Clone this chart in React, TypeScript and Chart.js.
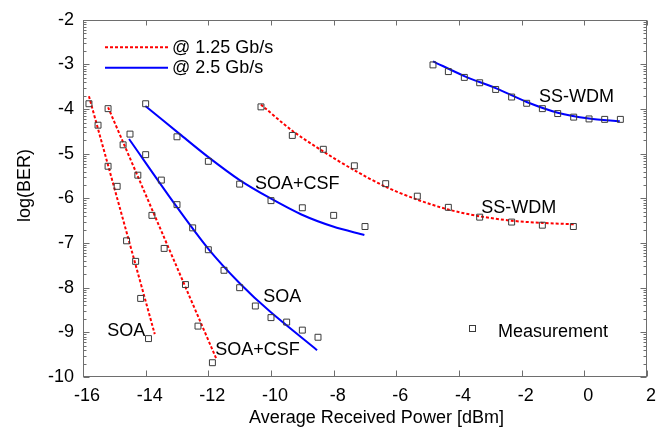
import React, { useEffect, useRef } from 'react';
import { Chart, registerables } from 'chart.js';

Chart.register(...registerables);

// ---------- data ----------
// SOA @ 1.25 Gb/s
const soa125X = [-15.81, -15.52, -15.2, -14.91, -14.61, -14.32, -14.16, -13.91];
const soa125Y = [-3.88, -4.36, -5.28, -5.73, -6.95, -7.41, -8.24, -9.14];
const soa125FitX = [-15.81, -13.71];
const soa125FitY = [-3.71, -9.04];

// SOA+CSF @ 1.25 Gb/s
const csf125X = [-15.2, -14.72, -14.25, -13.8, -13.41, -12.73, -12.33, -11.87];
const csf125Y = [-3.99, -4.8, -5.48, -6.38, -7.12, -7.93, -8.86, -9.68];
const csf125FitX = [-15.2, -11.74];
const csf125FitY = [-3.96, -9.6];

// SOA @ 2.5 Gb/s
const soa25X = [-14.5, -14, -13.5, -13, -12.5, -12, -11.5, -11, -10.5, -10, -9.5, -9, -8.5];
const soa25Y = [-4.56, -5.02, -5.59, -6.14, -6.66, -7.15, -7.61, -8.0, -8.41, -8.67, -8.77, -8.95, -9.11];
const soa25FitX = [-14.53, -13.1, -12.0, -11.0, -10.04, -8.53];
const soa25FitY = [-4.67, -6.1, -7.13, -7.9, -8.53, -9.4];

// SOA+CSF @ 2.5 Gb/s
const csf25X = [-14, -13, -12, -11, -10, -9, -8, -7];
const csf25Y = [-3.88, -4.62, -5.17, -5.68, -6.05, -6.21, -6.38, -6.63];
const csf25FitX = [-14.01, -12.91, -12.01, -11.0, -10.04, -9.03, -8.02, -7.02];
const csf25FitY = [-3.93, -4.56, -5.07, -5.59, -5.99, -6.36, -6.63, -6.82];

// SS-WDM @ 1.25 Gb/s
const ssw125X = [-10.32, -9.32, -8.33, -7.34, -6.34, -5.33, -4.34, -3.34, -2.32, -1.34, -0.35];
const ssw125Y = [-3.95, -4.59, -4.9, -5.27, -5.67, -5.95, -6.2, -6.42, -6.53, -6.6, -6.63];
const ssw125FitX = [-10.32, -9.33, -8.33, -7.34, -6.34, -5.36, -4.34, -3.34, -2.32, -1.32, -0.31];
const ssw125FitY = [-3.9, -4.48, -4.95, -5.37, -5.74, -6.02, -6.25, -6.4, -6.5, -6.55, -6.58];

// SS-WDM @ 2.5 Gb/s
const ssw25X = [-4.83, -4.34, -3.83, -3.34, -2.83, -2.32, -1.84, -1.34, -0.85, -0.34, 0.15, 0.65, 1.15];
const ssw25Y = [-3.01, -3.16, -3.29, -3.41, -3.56, -3.73, -3.87, -3.99, -4.1, -4.18, -4.22, -4.23, -4.23];
const ssw25FitX = [-4.83, -3.83, -2.83, -1.84, -0.85, 0.15, 1.13];
const ssw25FitY = [-2.93, -3.26, -3.53, -3.84, -4.08, -4.21, -4.27];

// axes
const xMin = -16, xMax = 2, xStep = 2;
const yMin = -10, yMax = -2, yStep = 1;
const xTitle = 'Average Received Power [dBm]';
const yTitle = 'log(BER)';

// legend
const legendLabels = ['@ 1.25 Gb/s', '@ 2.5 Gb/s'];
const measurementLabel = 'Measurement';

// curve annotations (data coordinates)
const annText = ['SOA', 'SOA+CSF', 'SOA', 'SOA+CSF', 'SS-WDM', 'SS-WDM'];
const annX = [-14.62, -10.43, -9.64, -9.16, -2.09, -0.25];
const annY = [-8.92, -9.35, -8.16, -5.62, -6.16, -3.68];

// ---------- styling ----------
const FONT = "'Liberation Sans', Arial, Helvetica, sans-serif";
const RED = '#ff0000';
const BLUE = '#0000ff';
const AXIS = '#6e6e6e';
const MARK = '#3a3a3a';

const zip = (xs: number[], ys: number[]) => xs.map((x, i) => ({ x, y: ys[i] }));

const fitDs = (xs: number[], ys: number[], red: boolean) => ({
  data: zip(xs, ys),
  showLine: true,
  pointRadius: 0,
  borderColor: red ? RED : BLUE,
  backgroundColor: red ? RED : BLUE,
  borderWidth: 2,
  borderDash: red ? [3, 2] : [],
  tension: 0.3,
  order: 1,
});

const markDs = (xs: number[], ys: number[]) => ({
  data: zip(xs, ys),
  showLine: false,
  pointStyle: 'rect',
  pointRadius: 4.2,
  pointBorderWidth: 1,
  pointBorderColor: MARK,
  pointBackgroundColor: 'rgba(255,255,255,0)',
  borderColor: MARK,
  order: 0,
});

const decoPlugin = {
  id: 'deco',
  afterDraw(chart: any) {
    const { ctx, chartArea: a, scales } = chart;
    const xs = scales.x, ys = scales.y;
    ctx.save();
    // frame
    ctx.strokeStyle = AXIS;
    ctx.lineWidth = 1;
    const L = Math.round(a.left) + 0.5, R = Math.round(a.right) - 0.5;
    const T = Math.round(a.top) + 0.5, B = Math.round(a.bottom) - 0.5;
    ctx.strokeRect(L, T, R - L, B - T);
    ctx.beginPath();
    // x major ticks (bottom & top, inward)
    xs.ticks.forEach((t: any) => {
      const p = Math.round(xs.getPixelForValue(t.value)) + 0.5;
      ctx.moveTo(p, B); ctx.lineTo(p, B - 6);
      ctx.moveTo(p, T); ctx.lineTo(p, T + 5);
    });
    // y major ticks (left & right, inward)
    ys.ticks.forEach((t: any) => {
      const p = Math.round(ys.getPixelForValue(t.value)) + 0.5;
      ctx.moveTo(L, p); ctx.lineTo(L + 6, p);
      ctx.moveTo(R, p); ctx.lineTo(R - 6, p);
    });
    // y minor (log) ticks
    for (let n = yMin; n < yMax; n++) {
      for (let k = 2; k <= 9; k++) {
        const p = Math.round(ys.getPixelForValue(n + Math.log10(k))) + 0.5;
        ctx.moveTo(L, p); ctx.lineTo(L + 3, p);
        ctx.moveTo(R, p); ctx.lineTo(R - 3, p);
      }
    }
    ctx.stroke();

    // annotations
    ctx.fillStyle = '#000';
    ctx.font = `18px ${FONT}`;
    ctx.textAlign = 'center';
    ctx.textBaseline = 'alphabetic';
    annText.forEach((s, i) => {
      ctx.fillText(s, xs.getPixelForValue(annX[i]), ys.getPixelForValue(annY[i]) + 7.4);
    });

    // legend (top-left)
    ctx.textAlign = 'left';
    const lx0 = a.left + 22, lx1 = a.left + 85;
    ctx.lineWidth = 2;
    ctx.strokeStyle = RED;
    ctx.setLineDash([3, 2]);
    ctx.beginPath(); ctx.moveTo(lx0, a.top + 27.5); ctx.lineTo(lx1, a.top + 27.5); ctx.stroke();
    ctx.setLineDash([]);
    ctx.strokeStyle = BLUE;
    ctx.beginPath(); ctx.moveTo(lx0, a.top + 48); ctx.lineTo(lx1, a.top + 48); ctx.stroke();
    ctx.fillText(legendLabels[0], a.left + 89, a.top + 33);
    ctx.fillText(legendLabels[1], a.left + 89, a.top + 53.5);

    // measurement legend
    ctx.lineWidth = 1;
    ctx.strokeStyle = MARK;
    const mx = Math.round(a.left + 389), my = Math.round(a.top + 308.5);
    ctx.strokeRect(mx - 2.5, my - 2.5, 6, 6);
    ctx.fillText(measurementLabel, a.left + 415, a.top + 317);

    // axis titles
    ctx.textAlign = 'center';
    ctx.fillText(xTitle, (a.left + a.right) / 2 + 11.5, a.bottom + 45.7);
    ctx.save();
    ctx.translate(30, (a.top + a.bottom) / 2 - 13);
    ctx.rotate(-Math.PI / 2);
    ctx.fillText(yTitle, 0, 0);
    ctx.restore();

    ctx.restore();
  },
};

export default function App() {
  const ref = useRef<HTMLCanvasElement>(null);
  useEffect(() => {
    const canvas = ref.current;
    if (!canvas) return;
    const chart = new Chart(canvas, {
      type: 'scatter',
      data: {
        datasets: [
          fitDs(soa125FitX, soa125FitY, true),
          fitDs(csf125FitX, csf125FitY, true),
          fitDs(ssw125FitX, ssw125FitY, true),
          fitDs(soa25FitX, soa25FitY, false),
          fitDs(csf25FitX, csf25FitY, false),
          fitDs(ssw25FitX, ssw25FitY, false),
          markDs(soa125X, soa125Y),
          markDs(csf125X, csf125Y),
          markDs(soa25X, soa25Y),
          markDs(csf25X, csf25Y),
          markDs(ssw125X, ssw125Y),
          markDs(ssw25X, ssw25Y),
        ] as any,
      },
      options: {
        animation: false,
        responsive: false,
        devicePixelRatio: 1,
        layout: { padding: { left: 0, top: 14, right: 22, bottom: 0 } },
        plugins: { legend: { display: false }, tooltip: { enabled: false } },
        scales: {
          x: {
            type: 'linear',
            min: xMin,
            max: xMax,
            grid: { display: false, drawTicks: false },
            border: { display: false },
            ticks: {
              stepSize: xStep,
              padding: 8,
              labelOffset: 4,
              maxRotation: 0,
              autoSkip: false,
              color: '#000',
              font: { family: FONT, size: 18 },
            },
            afterFit: (s: any) => { s.height = 62; },
          },
          y: {
            type: 'linear',
            min: yMin,
            max: yMax,
            grid: { display: false, drawTicks: false },
            border: { display: false },
            ticks: {
              stepSize: yStep,
              padding: 9,
              color: '#000',
              font: { family: FONT, size: 18 },
            },
            afterFit: (s: any) => { s.width = 83; },
          },
        },
      } as any,
      plugins: [decoPlugin],
    });
    return () => chart.destroy();
  }, []);
  return (
    <div style={{ position: 'fixed', left: 0, top: 0, width: 669, height: 439, background: '#fff' }}>
      <canvas ref={ref} width={669} height={439} style={{ display: 'block', width: 669, height: 439 }} />
    </div>
  );
}
